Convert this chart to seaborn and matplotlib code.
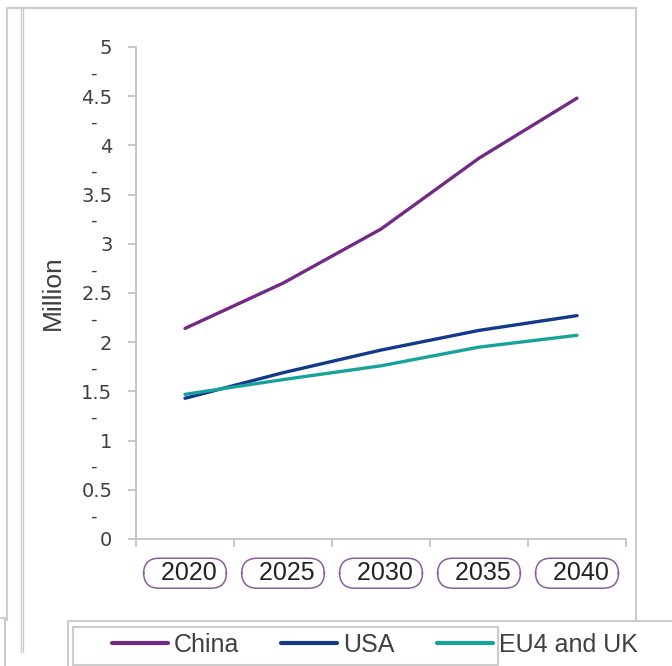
import matplotlib
matplotlib.use("Agg")
import matplotlib.pyplot as plt
from matplotlib.lines import Line2D
from matplotlib.patches import Rectangle
import seaborn as sns
import pandas as pd
import numpy as np

# ---- data ----
years = [2020, 2025, 2030, 2035, 2040]
china = [2.14, 2.60, 3.15, 3.87, 4.48]
usa = [1.43, 1.69, 1.92, 2.12, 2.27]
eu4_uk = [1.47, 1.62, 1.76, 1.95, 2.07]
series_names = ["China", "USA", "EU4 and UK"]
y_ticks = [0, 0.5, 1, 1.5, 2, 2.5, 3, 3.5, 4, 4.5, 5]
y_tick_labels = ["0", "0.5", "1", "1.5", "2", "2.5", "3", "3.5", "4", "4.5", "5"]
y_label = "Million"

colors = {"China": "#732A86", "USA": "#12398A", "EU4 and UK": "#17A39C"}

df = pd.DataFrame({
    "year": years * 3,
    "value": china + usa + eu4_uk,
    "series": [series_names[0]] * 5 + [series_names[1]] * 5 + [series_names[2]] * 5,
})

sns.set_style("white")
plt.rcParams["font.family"] = ["Liberation Sans", "DejaVu Sans"]

W, H = 672, 666
fig = plt.figure(figsize=(W / 100, H / 100), dpi=100)

def fx(px):
    return px / W

def fy(py):
    return (H - py) / H

ax = fig.add_axes([fx(136), fy(539), fx(626) - fx(136), fy(47) - fy(539)])

sns.lineplot(data=df, x="year", y="value", hue="series", palette=colors,
             hue_order=series_names, linewidth=2.4, ax=ax, legend=True)
handles, labels = ax.get_legend_handles_labels()
ax.get_legend().remove()

ax.set_xlim(2017.5, 2042.5)
ax.set_ylim(0, 5)

gray = "#bfbfbf"
txt = "#404040"
for side in ["top", "right"]:
    ax.spines[side].set_visible(False)
for side in ["left", "bottom"]:
    ax.spines[side].set_color(gray)
    ax.spines[side].set_linewidth(1.2)

# y axis
ax.set_yticks(y_ticks)
ax.set_yticklabels(y_tick_labels, fontfamily="DejaVu Sans", fontsize=14, color=txt)
ax.tick_params(axis="y", which="major", direction="out", length=6, width=1.2,
               color=gray, pad=11, left=True)
minor_y = [v + 0.25 for v in y_ticks[:-1]]
ax.set_yticks(minor_y, minor=True)
ax.set_yticklabels(["-"] * len(minor_y), minor=True, fontfamily="DejaVu Sans",
                   fontsize=13, color=txt)
ax.tick_params(axis="y", which="minor", length=0, pad=28)

ax.set_ylabel(y_label, fontsize=19, color=txt, labelpad=12)

# x axis
ax.set_xticks(years)
ax.set_xticklabels([f"  {y} " for y in years], fontsize=18, color="#222222")
for lab in ax.get_xticklabels():
    lab.set_bbox(dict(boxstyle="round,pad=0.12,rounding_size=0.62",
                      fc="white", ec="#8C5C9E", lw=1.1))
ax.tick_params(axis="x", which="major", length=0, pad=16)
ax.set_xticks([2017.5 + 5 * i for i in range(6)], minor=True)
ax.tick_params(axis="x", which="minor", direction="out", length=6, width=1.2,
               color=gray, bottom=True)
ax.set_xlabel("")

# legend
fig.legend(handles, labels, loc="center left",
           bbox_to_anchor=(fx(89), fy(645)), ncol=3, frameon=False,
           fontsize=18, handlelength=2.24, handletextpad=0.25,
           columnspacing=1.68, labelcolor=txt)
for leg_line in fig.legends[0].get_lines():
    leg_line.set_linewidth(3)

# frame lines (screenshot borders)
fc = "#cccccc"
def hline(x0, x1, y, lw=1.5):
    fig.add_artist(Line2D([fx(x0), fx(x1)], [fy(y), fy(y)], color=fc, lw=lw,
                          transform=fig.transFigure))

def vline(x, y0, y1, lw=1.5):
    fig.add_artist(Line2D([fx(x), fx(x)], [fy(y0), fy(y1)], color=fc, lw=lw,
                          transform=fig.transFigure))

hline(8, 636, 8)
vline(636, 8, 620)
vline(7, 8, 620)
vline(21, 8, 652, lw=1)
vline(23, 8, 652, lw=1)
hline(68, 672, 621)
vline(68, 621, 666)
hline(0, 5, 618)
vline(5, 618, 666)
fig.add_artist(Rectangle((fx(73), fy(665)), fx(498) - fx(73), fy(627) - fy(665),
                         fill=False, ec=fc, lw=1.5, transform=fig.transFigure))

fig.savefig("out.png", dpi=100)
